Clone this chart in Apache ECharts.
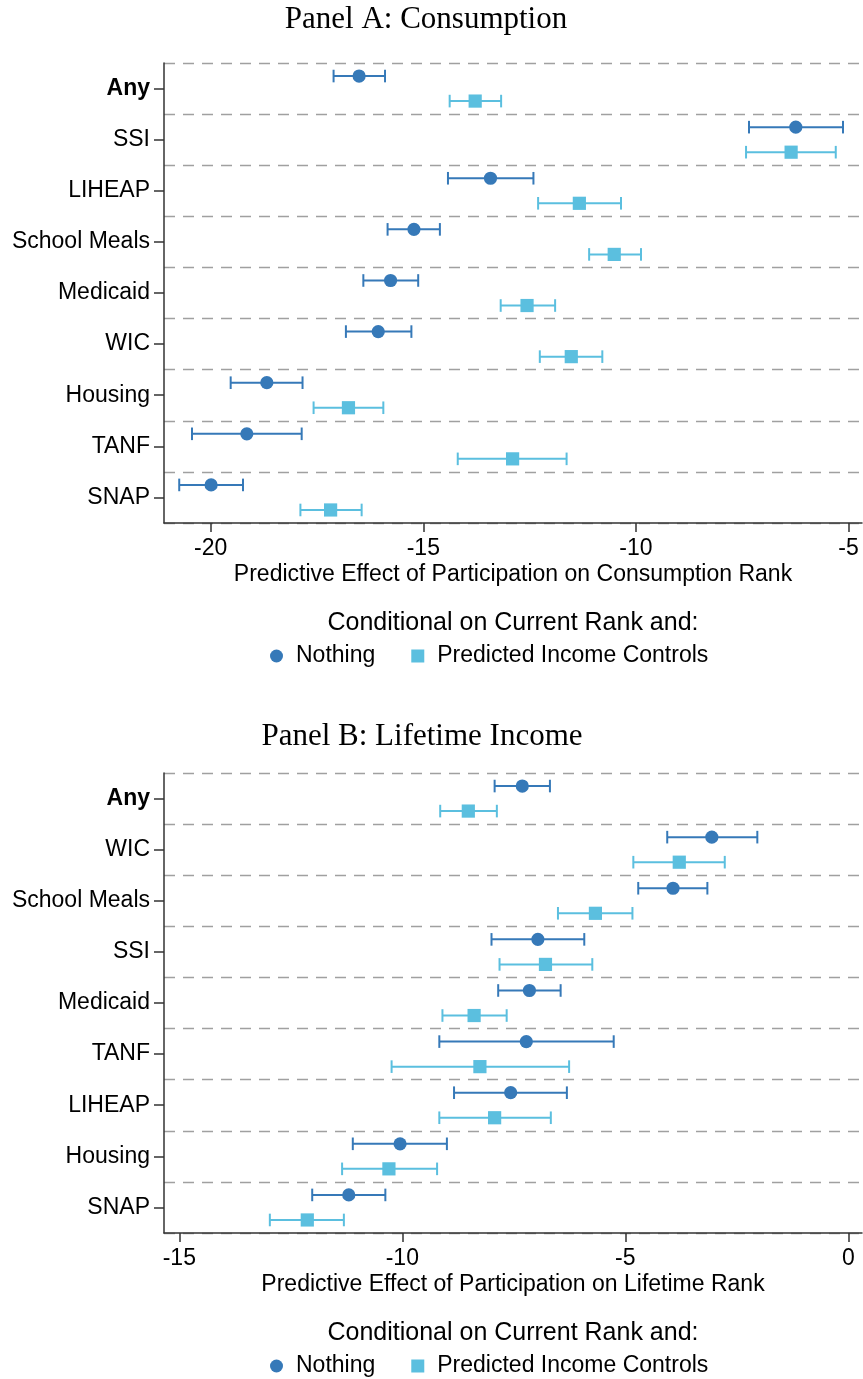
<!DOCTYPE html>
<html>
<head>
<meta charset="utf-8">
<script src="https://cdn.jsdelivr.net/npm/echarts@6/dist/echarts.min.js"></script>
<style>
html,body{margin:0;padding:0;background:#fff;}
#chart{width:863px;height:1379px;}
</style>
</head>
<body>
<div id="chart"></div>
<script>
// ---------- DATA ----------
const catsA = ['Any','SSI','LIHEAP','School Meals','Medicaid','WIC','Housing','TANF','SNAP'];
const aNothingEst = [-16.51, -6.24, -13.42, -15.22, -15.77, -16.06, -18.68, -19.15, -19.99];
const aNothingLo  = [-17.11, -7.34, -14.42, -15.84, -16.41, -16.82, -19.53, -20.44, -20.74];
const aNothingHi  = [-15.90, -5.13, -12.41, -14.61, -15.12, -15.28, -17.84, -17.86, -19.24];
const aPredEst    = [-13.78, -6.35, -11.33, -10.51, -12.56, -11.52, -16.76, -12.90, -17.18];
const aPredLo     = [-14.38, -7.41, -12.30, -11.10, -13.18, -12.26, -17.58, -14.19, -17.89];
const aPredHi     = [-13.17, -5.30, -10.35,  -9.88, -11.90, -10.79, -15.94, -11.63, -16.45];

const catsB = ['Any','WIC','School Meals','SSI','Medicaid','TANF','LIHEAP','Housing','SNAP'];
const bNothingEst = [-7.31, -3.06, -3.93, -6.96, -7.15, -7.22, -7.57, -10.05, -11.20];
const bNothingLo  = [-7.93, -4.06, -4.71, -8.00, -7.85, -9.17, -8.84, -11.11, -12.02];
const bNothingHi  = [-6.69, -2.04, -3.16, -5.92, -6.45, -5.26, -6.31,  -9.00, -10.38];
const bPredEst    = [-8.52, -3.79, -5.67, -6.79, -8.39, -8.26, -7.93, -10.30, -12.13];
const bPredLo     = [-9.15, -4.82, -6.51, -7.82, -9.10, -10.24, -9.17, -11.35, -12.97];
const bPredHi     = [-7.88, -2.77, -4.84, -5.74, -7.66, -6.26, -6.67,  -9.22, -11.31];

const xTicksA = [-20, -15, -10, -5];
const xTicksB = [-15, -10, -5, 0];

const seriesNames = ['Nothing', 'Predicted Income Controls'];
const titleA = 'Panel A: Consumption';
const titleB = 'Panel B: Lifetime Income';
const xNameA = 'Predictive Effect of Participation on Consumption Rank';
const xNameB = 'Predictive Effect of Participation on Lifetime Rank';
const legendTitle = 'Conditional on Current Rank and:';

// ---------- STYLE ----------
const dotColor = '#3679b8';
const sqColor = '#5bbfdf';
const sans = '"Liberation Sans", Arial, Helvetica, sans-serif';
const serif = '"Liberation Serif", "Times New Roman", serif';
const fs = 23;

function build(est, lo, hi) {
  return est.map((v, i) => [v, i, lo[i], hi[i]]);
}

function makeRender(sign, shape, color) {
  return function (params, api) {
    const est = api.value(0), yi = api.value(1), lo = api.value(2), hi = api.value(3);
    const band = api.size([0, 1])[1];
    const off = sign * band * 0.245;
    const pE = api.coord([est, yi]);
    const pL = api.coord([lo, yi]);
    const pH = api.coord([hi, yi]);
    const y = pE[1] + off;
    const cap = 6.3;
    const ls = { stroke: color, lineWidth: 2 };
    const children = [
      { type: 'line', shape: { x1: pL[0], y1: y, x2: pH[0], y2: y }, style: ls },
      { type: 'line', shape: { x1: pL[0], y1: y - cap, x2: pL[0], y2: y + cap }, style: ls },
      { type: 'line', shape: { x1: pH[0], y1: y - cap, x2: pH[0], y2: y + cap }, style: ls }
    ];
    if (shape === 'circle') {
      children.push({ type: 'circle', shape: { cx: pE[0], cy: y, r: 6.6 }, style: { fill: color } });
    } else {
      children.push({ type: 'rect', shape: { x: pE[0] - 6.6, y: y - 6.6, width: 13.2, height: 13.2 }, style: { fill: color } });
    }
    return { type: 'group', children };
  };
}

function yAxisCfg(cats, gi) {
  return {
    type: 'category', gridIndex: gi, data: cats, inverse: true,
    axisLine: { show: true, onZero: false, lineStyle: { color: '#333', width: 1.5 } },
    axisTick: { show: true, alignWithLabel: true, length: 10, lineStyle: { color: '#333', width: 1.5 } },
    axisLabel: {
      margin: 14, color: '#000', fontFamily: sans, fontSize: fs,
      formatter: v => v === 'Any' ? '{b|' + v + '}' : v,
      rich: { b: { fontWeight: 'bold', fontFamily: sans, fontSize: fs, color: '#000' } }
    },
    splitLine: { show: true, lineStyle: { color: '#a0a0a0', width: 1.3, type: [11, 8] } }
  };
}

function xAxisCfg(gi, min, max, ticks, name) {
  return {
    type: 'value', gridIndex: gi, min, max,
    name, nameLocation: 'middle', nameGap: 40,
    nameTextStyle: { color: '#000', fontFamily: sans, fontSize: fs },
    axisLine: { show: true, onZero: false, lineStyle: { color: '#333', width: 1.5 } },
    axisTick: { show: true, length: 9, customValues: ticks, lineStyle: { color: '#333', width: 1.5 } },
    axisLabel: { margin: 14, color: '#000', fontFamily: sans, fontSize: fs, customValues: ticks },
    splitLine: { show: false }
  };
}

function legendCfg(top) {
  return {
    left: 270, top, orient: 'horizontal', padding: 0,
    itemWidth: 13, itemHeight: 13, itemGap: 36,
    selectedMode: false,
    textStyle: { color: '#000', fontFamily: sans, fontSize: fs, lineHeight: 24, padding: [0, 0, 0, 8] },
    data: [
      { name: seriesNames[0], icon: 'circle', itemStyle: { color: dotColor } },
      { name: seriesNames[1], icon: 'rect', itemStyle: { color: sqColor } }
    ]
  };
}

const chart = echarts.init(document.getElementById('chart'), null, { renderer: 'canvas' });
chart.setOption({
  animation: false,
  backgroundColor: '#fff',
  grid: [
    { left: 164, top: 63, width: 698, height: 460 },
    { left: 164, top: 773, width: 698, height: 460 }
  ],
  xAxis: [
    xAxisCfg(0, -21.098, -4.683, xTicksA, xNameA),
    xAxisCfg(1, -15.343, 0.307, xTicksB, xNameB)
  ],
  yAxis: [yAxisCfg(catsA, 0), yAxisCfg(catsB, 1)],
  legend: [legendCfg(644), legendCfg(1354)],
  graphic: [
    { type: 'text', style: { text: titleA, x: 426, y: 20, textAlign: 'center', textVerticalAlign: 'middle', font: '31px ' + serif, fill: '#000' } },
    { type: 'text', style: { text: titleB, x: 422, y: 737, textAlign: 'center', textVerticalAlign: 'middle', font: '31px ' + serif, fill: '#000' } },
    { type: 'text', style: { text: legendTitle, x: 513, y: 623, textAlign: 'center', textVerticalAlign: 'middle', font: '25px ' + sans, fill: '#000' } },
    { type: 'text', style: { text: legendTitle, x: 513, y: 1333, textAlign: 'center', textVerticalAlign: 'middle', font: '25px ' + sans, fill: '#000' } }
  ],
  series: [
    { name: seriesNames[0], type: 'custom', xAxisIndex: 0, yAxisIndex: 0, itemStyle: { color: dotColor },
      encode: { x: [0, 2, 3], y: 1 }, renderItem: makeRender(-1, 'circle', dotColor), data: build(aNothingEst, aNothingLo, aNothingHi) },
    { name: seriesNames[1], type: 'custom', xAxisIndex: 0, yAxisIndex: 0, itemStyle: { color: sqColor },
      encode: { x: [0, 2, 3], y: 1 }, renderItem: makeRender(1, 'rect', sqColor), data: build(aPredEst, aPredLo, aPredHi) },
    { name: seriesNames[0], type: 'custom', xAxisIndex: 1, yAxisIndex: 1, itemStyle: { color: dotColor },
      encode: { x: [0, 2, 3], y: 1 }, renderItem: makeRender(-1, 'circle', dotColor), data: build(bNothingEst, bNothingLo, bNothingHi) },
    { name: seriesNames[1], type: 'custom', xAxisIndex: 1, yAxisIndex: 1, itemStyle: { color: sqColor },
      encode: { x: [0, 2, 3], y: 1 }, renderItem: makeRender(1, 'rect', sqColor), data: build(bPredEst, bPredLo, bPredHi) }
  ]
});
</script>
</body>
</html>
